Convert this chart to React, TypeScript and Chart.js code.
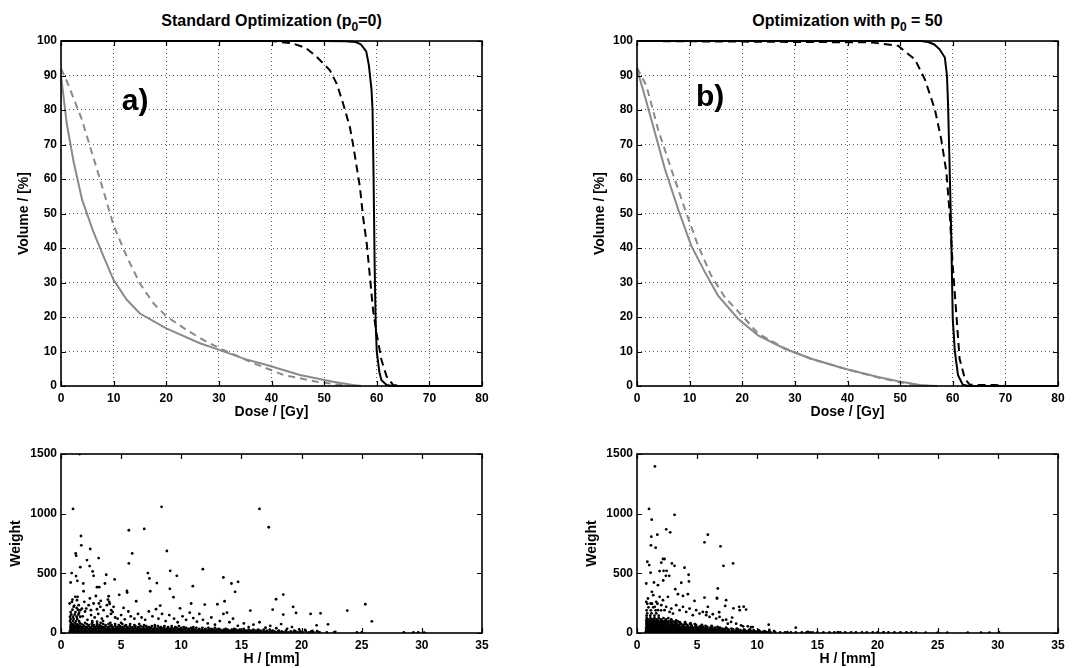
import React, { useEffect, useRef } from 'react';
import { Chart, registerables } from 'chart.js';

Chart.register(...registerables);

const FONT = "'Liberation Sans', Arial, Helvetica, sans-serif";

// ---------- Panel a) Standard Optimization (p0=0) ----------
const doseA_ptvSolid = [0, 50, 54, 56, 57, 58, 58.5, 59, 59.2, 59.4, 59.6, 59.8, 60, 60.5, 60.9, 61.9, 63, 80];
const volA_ptvSolid = [100, 100, 99.9, 99.7, 99, 97, 93, 86, 80, 60, 35, 18, 10, 4, 1.7, 0.3, 0, 0];
const doseA_ptvDash = [0, 40, 44, 46.5, 48.6, 51.1, 52.4, 53.6, 54.9, 55.5, 56.8, 57.4, 58.1, 58.7, 59.3, 60.0, 60.9, 61.9, 63.1, 65, 80];
const volA_ptvDash = [100, 100, 99.3, 98, 95.4, 91.5, 87.6, 81.9, 75, 70, 57.7, 49, 41.3, 31.7, 22, 15, 7.5, 2.7, 0.3, 0, 0];
const doseA_oarSolid = [0, 1.1, 2.4, 4, 6.2, 8.1, 10, 12.5, 15, 20, 26.4, 30.2, 35, 39.1, 45.4, 51.7, 55.5, 57];
const volA_oarSolid = [90, 76, 65, 54, 44.5, 37.5, 30.7, 25, 21, 16.7, 12.4, 10.4, 7.8, 6.1, 3.2, 1.25, 0.3, 0];
const doseA_oarDash = [0, 1.2, 2.5, 3.9, 5.2, 7.4, 10, 12.5, 15, 17.6, 20.1, 23.9, 27.7, 30.2, 36.6, 42.3, 48.6, 51.7, 54.3];
const volA_oarDash = [92, 88, 83, 77.5, 71, 60, 46.5, 37.5, 29.7, 23.9, 20.1, 16.2, 12.8, 10.9, 6.6, 3.2, 1.25, 0.6, 0];

// ---------- Panel b) Optimization with p0 = 50 ----------
const doseB_ptvSolid = [0, 54, 55.3, 56.5, 57.5, 58.5, 58.9, 59.1, 59.4, 59.7, 60, 60.4, 61, 61.9, 63, 80];
const volB_ptvSolid = [100, 100, 99.7, 99, 97.6, 95.2, 90, 82, 63.8, 44.6, 19.5, 10, 3.1, 0.4, 0, 0];
const doseB_ptvDash = [0, 44.5, 49.6, 52.8, 54.7, 56.6, 57.8, 58.8, 59.4, 60, 60.7, 61.3, 62.3, 63.2, 65, 68, 70, 80];
const volB_ptvDash = [100, 99.6, 98.6, 94.7, 88.9, 80.2, 71.6, 61.9, 50.3, 34.9, 20.4, 7.9, 2.1, 0.4, 0.3, 0.3, 0, 0];
const doseB_oarSolid = [0, 1.5, 3.4, 5.3, 7.8, 10.3, 12.9, 15.4, 19.2, 23, 28.1, 33.1, 39.5, 45.8, 50.2, 54, 57];
const volB_oarSolid = [91.8, 84, 73.5, 62.9, 51.3, 40.7, 33, 26.2, 19.5, 14.7, 10.8, 7.9, 5, 2.6, 1.2, 0.2, 0];
const doseB_oarDash = [0, 1.8, 4, 6.5, 9.1, 11.6, 14.1, 16.7, 20.5, 23, 28, 33, 40, 46, 50, 54, 56];
const volB_oarDash = [92.3, 87, 74.4, 62.9, 51.3, 40.7, 32, 25.7, 19.5, 15.2, 11, 7.9, 4.8, 2.4, 1.1, 0.2, 0];

// ---------- Scatter a): weight vs H ----------
// dense rows: [weight, H values]
const bandA: [number, number[]][] = [
  [6, [0.72, 0.95, 1.2, 1.45, 1.7, 1.98, 2.25, 2.5, 2.8, 3.05, 3.3, 3.6, 3.85, 4.1, 4.4, 4.65, 4.9, 5.2, 5.45, 5.7, 6.0, 6.25, 6.5, 6.8, 7.05, 7.3, 7.6, 7.85, 8.1, 8.4, 8.65, 8.9, 9.2, 9.45, 9.7, 10.0, 10.25, 10.5, 10.8, 11.05, 11.3, 11.6, 11.85, 12.1, 12.4, 12.65, 12.9, 13.2, 13.45, 13.7, 14.0, 14.25, 14.5, 14.8, 15.05, 15.3, 15.6, 15.85, 16.1, 16.4, 16.7, 17.0, 17.3, 17.6, 17.9, 18.2, 18.5, 18.9, 19.3, 19.7, 20.1, 20.6, 21.0, 21.5, 22.1, 22.7]],
  [13, [0.85, 1.12, 1.38, 1.62, 1.85, 2.1, 2.38, 2.62, 2.95, 3.18, 3.45, 3.72, 4.0, 4.25, 4.55, 4.8, 5.08, 5.35, 5.6, 5.88, 6.12, 6.4, 6.65, 6.92, 7.2, 7.45, 7.72, 8.0, 8.28, 8.55, 8.8, 9.05, 9.35, 9.6, 9.9, 10.12, 10.4, 10.65, 10.92, 11.2, 11.45, 11.72, 12.0, 12.25, 12.55, 12.8, 13.05, 13.35, 13.6, 13.85, 14.15, 14.4, 14.65, 14.95, 15.2, 15.45, 15.75, 16.0, 16.3, 16.55, 16.85, 17.15, 17.45, 17.75, 18.05, 18.35, 18.7, 19.1, 19.5, 19.9, 20.35, 20.8, 21.3]],
  [20, [0.75, 1.05, 1.3, 1.6, 1.9, 2.15, 2.45, 2.7, 3.0, 3.3, 3.55, 3.85, 4.15, 4.4, 4.7, 5.0, 5.3, 5.55, 5.85, 6.15, 6.4, 6.7, 7.0, 7.3, 7.55, 7.85, 8.15, 8.45, 8.7, 9.0, 9.3, 9.6, 9.85, 10.15, 10.45, 10.75, 11.0, 11.3, 11.6, 11.9, 12.2, 12.5, 12.8, 13.1, 13.4, 13.7, 14.0, 14.35, 14.7, 15.0, 15.4, 15.8, 16.2, 16.6, 17.1, 17.6, 18.1, 18.7, 19.4]],
  [28, [0.9, 1.18, 1.45, 1.75, 2.02, 2.3, 2.58, 2.85, 3.15, 3.42, 3.7, 4.0, 4.28, 4.55, 4.85, 5.15, 5.42, 5.7, 6.0, 6.28, 6.55, 6.85, 7.15, 7.42, 7.7, 8.0, 8.3, 8.58, 8.85, 9.15, 9.45, 9.72, 10.0, 10.3, 10.6, 10.9, 11.15, 11.45, 11.75, 12.05, 12.35, 12.65, 12.95, 13.25, 13.55, 13.85, 14.2, 14.55, 14.85, 15.2, 15.6, 16.0, 16.4, 16.85, 17.35]],
  [35, [0.8, 1.1, 1.4, 1.7, 2.0, 2.3, 2.6, 2.9, 3.2, 3.5, 3.8, 4.1, 4.45, 4.75, 5.05, 5.4, 5.7, 6.0, 6.35, 6.65, 7.0, 7.3, 7.65, 8.0, 8.35, 8.7, 9.05, 9.4, 9.8, 10.2, 10.6, 11.0, 11.5, 12.0, 12.5, 13.1, 13.7, 14.4, 15.2]],
  [43, [0.92, 1.25, 1.55, 1.85, 2.15, 2.45, 2.75, 3.05, 3.35, 3.65, 3.95, 4.28, 4.6, 4.9, 5.22, 5.55, 5.85, 6.18, 6.5, 6.82, 7.15, 7.48, 7.82, 8.18, 8.52, 8.88, 9.22, 9.6, 10.0, 10.4, 10.8, 11.25, 11.75, 12.25, 12.8]],
  [50, [0.78, 1.08, 1.4, 1.75, 2.1, 2.45, 2.8, 3.15, 3.5, 3.9, 4.3, 4.7, 5.1, 5.5, 5.95, 6.4, 6.85, 7.3, 7.8, 8.3, 8.9, 9.5, 10.2, 11.0]],
  [58, [0.92, 1.25, 1.58, 1.92, 2.28, 2.62, 2.98, 3.32, 3.7, 4.1, 4.5, 4.9, 5.3, 5.72, 6.18, 6.62, 7.08, 7.55, 8.05, 8.6, 9.2, 9.8]],
  [66, [0.8, 1.1, 1.45, 1.85, 2.3, 2.75, 3.2, 3.7, 4.2, 4.8, 5.4, 6.1, 6.9, 7.8]],
  [75, [0.95, 1.3, 1.7, 2.15, 2.55, 3.0, 3.5, 3.95, 4.5, 5.1, 5.75, 6.5]],
  [85, [0.82, 1.15, 1.55, 2.0, 2.6, 3.3, 4.1, 5.0]],
  [100, [0.75, 1.0, 1.25, 1.5]],
  [118, [0.8, 1.05, 1.35]],
  [136, [0.75, 1.0, 1.3, 1.6]],
  [155, [0.85, 1.15, 1.45]],
  [175, [0.8, 1.2]],
  [195, [0.95, 1.4]],
];
const scatterA: [number, number][] = [
  [1.55, 1500], [1.0, 1040], [8.36, 1057], [16.5, 1040], [17.27, 886], [5.64, 861], [6.92, 872], [1.66, 813], [8.8, 687],
  [5.92, 667], [1.69, 735], [1.22, 667], [1.26, 648], [2.43, 704], [3.13, 628], [2.16, 611], [2.38, 561], [1.6, 552],
  [5.64, 583], [11.79, 535], [0.89, 502], [2.63, 516], [7.22, 502], [9.08, 521], [9.63, 479], [2.71, 479], [3.76, 488],
  [7.35, 457], [4.46, 449], [1.25, 477], [1.36, 437], [0.8, 423], [1.85, 415], [3.65, 415], [7.97, 418], [13.5, 465],
  [14.17, 415], [14.72, 429], [10.96, 392], [9.05, 370], [2.99, 384], [3.18, 384], [1.88, 350], [5.48, 353], [5.5, 339],
  [14.47, 345], [7.42, 350], [4.84, 320], [18.48, 322], [1.38, 303], [3.96, 308], [9.35, 300], [17.88, 283], [13.6, 266],
  [6.25, 266], [3.15, 247], [10.82, 247], [25.3, 241], [11.95, 238], [13.0, 241], [19.3, 219], [9.9, 207], [8.25, 230],
  [5.2, 210], [17.6, 196], [15.74, 188], [23.8, 188], [19.54, 168], [20.75, 160], [21.58, 165], [18.48, 154], [25.84, 98],
  [22.2, 73], [21.25, 64],
  [0.72, 247], [0.91, 261], [1.05, 219], [1.19, 303], [1.33, 275], [1.47, 233], [1.6, 191], [1.74, 205], [1.94, 261],
  [2.1, 205], [2.3, 233], [2.49, 191], [2.71, 247], [2.99, 199], [3.27, 219], [3.54, 191], [3.82, 233], [4.01, 261],
  [4.18, 191], [4.37, 219], [3.9, 280], [4.05, 245], [4.15, 160], [4.3, 175], [3.85, 140], [4.5, 130], [4.7, 120],
  [5.0, 150], [5.3, 115], [5.6, 180], [5.8, 140], [6.1, 120], [6.4, 160], [6.7, 130], [7.0, 110], [7.3, 180], [7.6, 140],
  [7.9, 200], [8.1, 120], [8.4, 160], [8.7, 100], [9.0, 150], [9.4, 120], [9.7, 90], [10.1, 140], [10.4, 110], [10.7, 170],
  [11.0, 125], [11.3, 95], [11.5, 160], [11.8, 110], [12.2, 80], [12.5, 130], [12.8, 70], [13.2, 100], [13.5, 160],
  [13.8, 170], [14.0, 90], [14.3, 120], [14.7, 60], [15.2, 80], [15.6, 50], [16.0, 70], [16.5, 90], [17.0, 45], [17.4, 60],
  [17.9, 40], [18.3, 75], [18.8, 35], [19.2, 50], [19.8, 30], [20.3, 25], [20.9, 18], [21.3, 15], [22.8, 10], [24.6, 5],
  [25.0, 4], [28.5, 4], [29.3, 4], [29.7, 4], [30.2, 3],
  [1.1, 230], [1.5, 170], [2.0, 180], [2.5, 150], [2.8, 130], [3.1, 160], [3.4, 120], [1.8, 140], [2.2, 110], [2.6, 100],
  [3.0, 95], [3.5, 100], [1.3, 210], [0.95, 280], [2.4, 290], [2.9, 310], [3.3, 270],
];

// ---------- Scatter b): weight vs H ----------
const bandB: [number, number[]][] = [
  [4, [0.72, 0.98, 1.25, 1.5, 1.78, 2.05, 2.3, 2.58, 2.85, 3.1, 3.38, 3.65, 3.9, 4.18, 4.45, 4.7, 4.98, 5.25, 5.5, 5.78, 6.05, 6.3, 6.58, 6.85, 7.1, 7.38, 7.65, 7.9, 8.18, 8.45, 8.7, 8.98, 9.25, 9.5, 9.78, 10.05, 10.3, 10.58, 10.85, 11.1, 11.5, 11.9, 12.3, 12.8, 13.2, 13.7, 14.1, 14.6, 15.0, 15.5, 16.0, 16.4, 16.9, 17.3, 17.8, 18.2, 18.7, 19.1, 19.6, 20.0, 20.5, 20.9, 21.4, 21.9, 22.4]],
  [10, [0.85, 1.12, 1.38, 1.65, 1.92, 2.18, 2.45, 2.72, 2.98, 3.25, 3.52, 3.78, 4.05, 4.32, 4.58, 4.85, 5.12, 5.38, 5.65, 5.92, 6.18, 6.45, 6.72, 6.98, 7.25, 7.52, 7.78, 8.05, 8.32, 8.58, 8.85, 9.12, 9.38, 9.65, 9.92, 10.2, 10.45, 10.72, 11.0]],
  [16, [0.75, 1.02, 1.3, 1.58, 1.85, 2.12, 2.4, 2.68, 2.95, 3.22, 3.5, 3.78, 4.05, 4.32, 4.6, 4.88, 5.15, 5.42, 5.7, 5.98, 6.25, 6.52, 6.8, 7.08, 7.35, 7.62, 7.9, 8.2, 8.5, 8.8, 9.1, 9.45, 9.8, 10.2, 10.6, 11.0]],
  [23, [0.88, 1.15, 1.45, 1.72, 2.0, 2.28, 2.55, 2.82, 3.1, 3.38, 3.65, 3.92, 4.2, 4.48, 4.75, 5.02, 5.3, 5.58, 5.85, 6.12, 6.4, 6.7, 7.0, 7.3, 7.6, 7.9, 8.25, 8.6, 8.95, 9.3, 9.7, 10.1]],
  [30, [0.78, 1.05, 1.35, 1.62, 1.9, 2.2, 2.48, 2.75, 3.05, 3.32, 3.6, 3.9, 4.18, 4.48, 4.75, 5.05, 5.35, 5.65, 5.95, 6.25, 6.55, 6.9, 7.25, 7.6, 8.0, 8.4, 8.9, 9.4]],
  [37, [0.9, 1.2, 1.5, 1.78, 2.08, 2.35, 2.62, 2.92, 3.2, 3.48, 3.78, 4.05, 4.35, 4.62, 4.92, 5.22, 5.52, 5.82, 6.12, 6.42, 6.75, 7.1, 7.45, 7.85, 8.3]],
  [45, [0.76, 1.05, 1.35, 1.65, 1.95, 2.25, 2.55, 2.85, 3.15, 3.45, 3.75, 4.05, 4.35, 4.65, 5.0, 5.35, 5.7, 6.1, 6.5, 6.9, 7.4]],
  [52, [0.9, 1.22, 1.52, 1.82, 2.12, 2.42, 2.72, 3.02, 3.32, 3.62, 3.92, 4.22, 4.52, 4.85, 5.18, 5.5, 5.85, 6.25, 6.7]],
  [60, [0.8, 1.1, 1.4, 1.7, 2.0, 2.3, 2.6, 2.9, 3.2, 3.5, 3.85, 4.2, 4.55, 4.9, 5.3, 5.7, 6.2]],
  [67, [0.92, 1.25, 1.55, 1.85, 2.15, 2.45, 2.78, 3.1, 3.45, 3.8, 4.15, 4.5, 4.9, 5.4]],
  [75, [0.78, 1.08, 1.38, 1.68, 2.0, 2.3, 2.62, 2.95, 3.3, 3.65, 4.0, 4.4, 4.8]],
  [82, [0.92, 1.25, 1.58, 1.9, 2.22, 2.55, 2.9, 3.25, 3.6, 4.0, 4.45]],
  [90, [0.8, 1.1, 1.42, 1.75, 2.08, 2.42, 2.78, 3.15, 3.55, 4.0]],
  [97, [0.92, 1.25, 1.58, 1.92, 2.25, 2.6, 2.98, 3.4]],
  [105, [0.77, 1.08, 1.4, 1.72, 2.05, 2.4, 2.8, 3.25]],
  [115, [0.92, 1.28, 1.62, 1.98, 2.4, 2.85]],
  [125, [0.8, 1.12, 1.45, 1.8, 2.2, 2.6]],
  [145, [0.8, 1.1, 1.45, 1.8]],
  [165, [0.85, 1.2, 1.6]],
  [190, [0.8, 1.15, 1.55, 2.0]],
  [215, [0.95, 1.35]],
  [245, [0.85, 1.25, 1.7]],
];
const scatterB: [number, number][] = [
  [1.49, 1396], [1.0, 1040], [3.12, 990], [1.22, 950], [2.43, 869], [2.76, 844], [1.69, 824], [1.19, 807], [5.89, 824],
  [5.61, 760], [1.16, 735], [1.55, 715], [6.94, 726], [0.86, 597], [1.02, 569], [2.16, 620], [2.29, 620], [2.9, 583],
  [3.12, 563], [7.99, 583], [7.19, 563], [3.95, 547], [2.02, 589], [1.88, 519], [2.21, 521], [2.46, 521], [1.13, 505],
  [2.68, 479], [2.4, 479], [4.29, 488], [4.32, 432], [0.77, 415], [1.41, 423], [2.18, 440], [3.68, 421], [1.74, 401],
  [6.72, 373], [3.18, 367], [3.4, 325], [4.23, 325], [5.61, 297], [6.64, 294], [7.41, 275], [6.66, 289], [4.78, 269],
  [3.82, 311], [7.33, 227], [8.49, 219], [8.87, 221], [9.07, 196], [8.02, 207], [6.83, 174], [5.89, 219], [5.78, 174],
  [7.91, 129], [8.54, 191], [7.55, 78], [8.82, 56], [9.48, 50], [10.95, 70], [13.2, 45],
  [0.77, 261], [0.91, 289], [1.13, 247], [1.24, 345], [1.35, 317], [1.47, 219], [1.6, 261], [1.74, 191], [1.88, 303],
  [2.02, 233], [2.16, 275], [2.29, 191], [2.43, 219], [2.57, 303], [2.71, 177], [2.85, 205], [2.99, 163], [3.26, 233],
  [3.54, 191], [3.82, 219], [4.09, 177], [4.37, 205], [4.64, 149], [4.92, 191], [5.2, 163], [5.47, 177], [5.75, 149],
  [6.03, 135], [6.3, 157], [6.58, 121], [6.86, 135], [7.13, 107], [7.41, 112], [7.82, 93], [8.24, 78], [8.65, 64],
  [9.21, 56], [9.62, 50],
  [11.4, 15], [11.0, 25], [12.5, 8], [14.2, 10], [14.4, 6], [16.7, 8], [20.5, 6], [22.8, 4], [23.2, 3], [24.0, 2],
  [25.0, 3], [25.8, 2], [27.5, 2], [28.6, 3], [29.3, 2], [30.1, 4],
];

// ---------- tick labels ----------
const doseTicks = [0, 10, 20, 30, 40, 50, 60, 70, 80];
const volumeTicks = [0, 10, 20, 30, 40, 50, 60, 70, 80, 90, 100];
const hTicks = [0, 5, 10, 15, 20, 25, 30, 35];
const weightTicks = [0, 500, 1000, 1500];

const pts = (xs: number[], ys: number[]) => xs.map((x, i) => ({ x, y: ys[i] }));
const bandPts = (rows: [number, number[]][]) =>
  rows.flatMap(([w, hs]) => hs.map((h) => ({ x: h, y: w })));
const pairPts = (p: [number, number][]) => p.map(([x, y]) => ({ x, y }));

const GRAY = '#8a8a8a';

function boxPlugin(label?: { text: string; x: number; y: number }) {
  return {
    id: 'boxTicks',
    afterDatasetsDraw(chart: any) {
      const { ctx, chartArea: a, scales } = chart;
      ctx.save();
      ctx.strokeStyle = '#000';
      ctx.lineWidth = 1.2;
      const L = 5;
      ctx.beginPath();
      scales.x.ticks.forEach((t: any) => {
        const px = Math.round(scales.x.getPixelForValue(t.value)) + 0.5;
        ctx.moveTo(px, a.bottom);
        ctx.lineTo(px, a.bottom - L);
        ctx.moveTo(px, a.top);
        ctx.lineTo(px, a.top + L);
      });
      scales.y.ticks.forEach((t: any) => {
        const py = Math.round(scales.y.getPixelForValue(t.value)) + 0.5;
        ctx.moveTo(a.left, py);
        ctx.lineTo(a.left + L, py);
        ctx.moveTo(a.right, py);
        ctx.lineTo(a.right - L, py);
      });
      ctx.stroke();
      ctx.lineWidth = 1.6;
      ctx.strokeRect(a.left, a.top, a.right - a.left, a.bottom - a.top);
      if (label) {
        ctx.font = `bold 30px ${FONT}`;
        ctx.fillStyle = '#000';
        ctx.textAlign = 'center';
        ctx.textBaseline = 'middle';
        ctx.fillText(label.text, scales.x.getPixelForValue(label.x), scales.y.getPixelForValue(label.y));
      }
      ctx.restore();
    },
  };
}

const tickFont = { family: FONT, size: 12, weight: 'bold' as const };
const titleFont = { family: FONT, size: 14, weight: 'bold' as const };

function axisCommon(ticksArr: number[], min: number, max: number, step: number, padding: number) {
  return {
    type: 'linear' as const,
    min,
    max,
    afterBuildTicks: (s: any) => {
      s.ticks = ticksArr.map((v) => ({ value: v }));
    },
    ticks: {
      stepSize: step,
      font: tickFont,
      color: '#000',
      maxRotation: 0,
      autoSkip: false,
      padding,
      callback: (v: any) => String(v),
    },
  };
}

function dvhConfig(
  ds: { d: number[]; v: number[]; color: string; dash: number[] }[],
  padL: number,
  padR: number,
  label: { text: string; x: number; y: number }
) {
  return {
    type: 'scatter',
    data: {
      datasets: ds.map((s) => ({
        data: pts(s.d, s.v),
        showLine: true,
        borderColor: s.color,
        backgroundColor: s.color,
        borderWidth: 2,
        borderDash: s.dash,
        pointRadius: 0,
        tension: 0,
        clip: false,
      })),
    },
    options: {
      animation: false,
      responsive: false,
      devicePixelRatio: 1,
      layout: { padding: { left: padL, right: padR, top: 41, bottom: 0 } },
      plugins: { legend: { display: false }, tooltip: { enabled: false } },
      scales: {
        x: {
          ...axisCommon(doseTicks, 0, 80, 10, 5),
          grid: { color: '#5a5a5a', lineWidth: 1, drawTicks: false },
          border: { display: false, dash: [1, 3] },
          title: { display: true, text: 'Dose / [Gy]', font: titleFont, color: '#000', padding: { top: 0, bottom: 4 } },
          afterFit: (s: any) => {
            s.height = 39;
          },
        },
        y: {
          ...axisCommon(volumeTicks, 0, 100, 10, 4),
          grid: { color: '#5a5a5a', lineWidth: 1, drawTicks: false },
          border: { display: false, dash: [1, 3] },
          title: { display: true, text: 'Volume / [%]', font: titleFont, color: '#000', padding: { top: 16, bottom: 0 } },
          afterFit: (s: any) => {
            s.width = 61;
          },
        },
      },
    },
    plugins: [boxPlugin(label)],
  };
}

function scatterConfig(points: { x: number; y: number }[], padL: number, padR: number) {
  return {
    type: 'scatter',
    data: {
      datasets: [
        {
          data: points,
          pointRadius: 1.4,
          pointBorderWidth: 0,
          pointBackgroundColor: '#000',
          backgroundColor: '#000',
          borderColor: '#000',
        },
      ],
    },
    options: {
      animation: false,
      responsive: false,
      devicePixelRatio: 1,
      layout: { padding: { left: padL, right: padR, top: 29, bottom: 0 } },
      plugins: { legend: { display: false }, tooltip: { enabled: false } },
      scales: {
        x: {
          ...axisCommon(hTicks, 0, 35, 5, 5),
          grid: { display: false, drawTicks: false },
          border: { display: false },
          title: { display: true, text: 'H / [mm]', font: titleFont, color: '#000', padding: { top: 0, bottom: 0 } },
          afterFit: (s: any) => {
            s.height = 35;
          },
        },
        y: {
          ...axisCommon(weightTicks, 0, 1500, 500, 4),
          grid: { display: false, drawTicks: false },
          border: { display: false },
          title: { display: true, text: 'Weight', font: titleFont, color: '#000', padding: { top: 8, bottom: 0 } },
          afterFit: (s: any) => {
            s.width = 61;
          },
        },
      },
    },
    plugins: [boxPlugin()],
  };
}

function Panel({ left, top, width, height, config }: any) {
  const ref = useRef<HTMLCanvasElement>(null);
  useEffect(() => {
    if (!ref.current) return;
    const chart = new Chart(ref.current, config);
    return () => chart.destroy();
  }, []);
  return (
    <canvas
      ref={ref}
      width={width}
      height={height}
      style={{ position: 'absolute', left, top, width, height, display: 'block' }}
    />
  );
}

const titleStyle = (left: number, width: number): React.CSSProperties => ({
  position: 'absolute',
  left,
  width,
  top: 12,
  textAlign: 'center',
  fontFamily: FONT,
  fontWeight: 'bold',
  fontSize: 16,
  lineHeight: '18px',
  color: '#000',
  whiteSpace: 'nowrap',
});
const subStyle: React.CSSProperties = { fontSize: 12, position: 'relative', top: 5 };

export default function App() {
  const cfgA = dvhConfig(
    [
      { d: doseA_oarSolid, v: volA_oarSolid, color: GRAY, dash: [] },
      { d: doseA_oarDash, v: volA_oarDash, color: GRAY, dash: [7, 5] },
      { d: doseA_ptvDash, v: volA_ptvDash, color: '#000', dash: [8, 5] },
      { d: doseA_ptvSolid, v: volA_ptvSolid, color: '#000', dash: [] },
    ],
    0,
    63,
    { text: 'a)', x: 14.1, y: 82.3 }
  );
  const cfgB = dvhConfig(
    [
      { d: doseB_oarSolid, v: volB_oarSolid, color: GRAY, dash: [] },
      { d: doseB_oarDash, v: volB_oarDash, color: GRAY, dash: [7, 5] },
      { d: doseB_ptvDash, v: volB_ptvDash, color: '#000', dash: [8, 5] },
      { d: doseB_ptvSolid, v: volB_ptvSolid, color: '#000', dash: [] },
    ],
    31,
    31,
    { text: 'b)', x: 13.9, y: 83.5 }
  );
  const cfgC = scatterConfig([...bandPts(bandA), ...pairPts(scatterA)], 0, 63);
  const cfgD = scatterConfig([...bandPts(bandB), ...pairPts(scatterB)], 31, 31);

  return (
    <div style={{ position: 'absolute', left: 0, top: 0, width: 1089, height: 668, background: '#fff', overflow: 'hidden' }}>
      <div style={titleStyle(61, 421)}>
        Standard Optimization (p<span style={subStyle}>0</span>=0)
      </div>
      <div style={titleStyle(637, 421)}>
        Optimization with p<span style={subStyle}>0</span> = 50
      </div>
      <Panel left={0} top={0} width={545} height={425} config={cfgA} />
      <Panel left={545} top={0} width={544} height={425} config={cfgB} />
      <Panel left={0} top={425} width={545} height={243} config={cfgC} />
      <Panel left={545} top={425} width={544} height={243} config={cfgD} />
    </div>
  );
}
